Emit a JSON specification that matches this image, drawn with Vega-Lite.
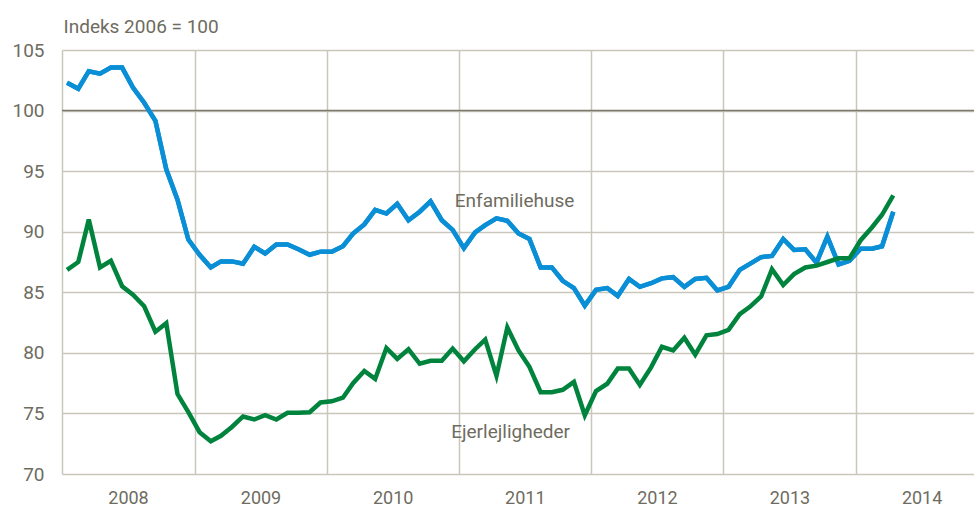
{
  "$schema": "https://vega.github.io/schema/vega-lite/v6.json",
  "width": 912,
  "height": 424,
  "autosize": {"type": "none"},
  "padding": {"left": 62, "top": 50, "right": 0, "bottom": 34},
  "background": "white",
  "config": {
    "view": {"stroke": null},
    "font": "Roboto, sans-serif"
  },
  "datasets": {
    "series": [
      {"date": "2008-01-15", "blue": 102.3, "green": 86.85},
      {"date": "2008-02-15", "blue": 101.8, "green": 87.5},
      {"date": "2008-03-15", "blue": 103.25, "green": 91.0},
      {"date": "2008-04-15", "blue": 103.05, "green": 87.05},
      {"date": "2008-05-15", "blue": 103.55, "green": 87.6},
      {"date": "2008-06-15", "blue": 103.55, "green": 85.5},
      {"date": "2008-07-15", "blue": 101.9, "green": 84.8},
      {"date": "2008-08-15", "blue": 100.65, "green": 83.85},
      {"date": "2008-09-15", "blue": 99.15, "green": 81.75},
      {"date": "2008-10-15", "blue": 95.15, "green": 82.45},
      {"date": "2008-11-15", "blue": 92.65, "green": 76.6},
      {"date": "2008-12-15", "blue": 89.35, "green": 75.1},
      {"date": "2009-01-15", "blue": 88.1, "green": 73.45},
      {"date": "2009-02-15", "blue": 87.05, "green": 72.7},
      {"date": "2009-03-15", "blue": 87.55, "green": 73.15},
      {"date": "2009-04-15", "blue": 87.55, "green": 73.9},
      {"date": "2009-05-15", "blue": 87.35, "green": 74.75},
      {"date": "2009-06-15", "blue": 88.75, "green": 74.5},
      {"date": "2009-07-15", "blue": 88.2, "green": 74.85},
      {"date": "2009-08-15", "blue": 88.95, "green": 74.5},
      {"date": "2009-09-15", "blue": 88.95, "green": 75.05},
      {"date": "2009-10-15", "blue": 88.55, "green": 75.05},
      {"date": "2009-11-15", "blue": 88.1, "green": 75.1},
      {"date": "2009-12-15", "blue": 88.35, "green": 75.9},
      {"date": "2010-01-15", "blue": 88.35, "green": 76.0},
      {"date": "2010-02-15", "blue": 88.8, "green": 76.3},
      {"date": "2010-03-15", "blue": 89.85, "green": 77.5},
      {"date": "2010-04-15", "blue": 90.6, "green": 78.5},
      {"date": "2010-05-15", "blue": 91.8, "green": 77.85},
      {"date": "2010-06-15", "blue": 91.5, "green": 80.4},
      {"date": "2010-07-15", "blue": 92.3, "green": 79.5},
      {"date": "2010-08-15", "blue": 90.95, "green": 80.3},
      {"date": "2010-09-15", "blue": 91.65, "green": 79.1},
      {"date": "2010-10-15", "blue": 92.5, "green": 79.35},
      {"date": "2010-11-15", "blue": 90.95, "green": 79.35},
      {"date": "2010-12-15", "blue": 90.15, "green": 80.35},
      {"date": "2011-01-15", "blue": 88.65, "green": 79.3},
      {"date": "2011-02-15", "blue": 89.95, "green": 80.3},
      {"date": "2011-03-15", "blue": 90.55, "green": 81.1},
      {"date": "2011-04-15", "blue": 91.1, "green": 78.1},
      {"date": "2011-05-15", "blue": 90.9, "green": 82.1},
      {"date": "2011-06-15", "blue": 89.85, "green": 80.2},
      {"date": "2011-07-15", "blue": 89.4, "green": 78.85},
      {"date": "2011-08-15", "blue": 87.05, "green": 76.75},
      {"date": "2011-09-15", "blue": 87.05, "green": 76.75},
      {"date": "2011-10-15", "blue": 85.95, "green": 76.95},
      {"date": "2011-11-15", "blue": 85.35, "green": 77.6},
      {"date": "2011-12-15", "blue": 83.9, "green": 74.85},
      {"date": "2012-01-15", "blue": 85.2, "green": 76.85},
      {"date": "2012-02-15", "blue": 85.35, "green": 77.45},
      {"date": "2012-03-15", "blue": 84.7, "green": 78.7},
      {"date": "2012-04-15", "blue": 86.1, "green": 78.7},
      {"date": "2012-05-15", "blue": 85.45, "green": 77.35},
      {"date": "2012-06-15", "blue": 85.75, "green": 78.8},
      {"date": "2012-07-15", "blue": 86.15, "green": 80.5},
      {"date": "2012-08-15", "blue": 86.25, "green": 80.2},
      {"date": "2012-09-15", "blue": 85.45, "green": 81.25},
      {"date": "2012-10-15", "blue": 86.1, "green": 79.85},
      {"date": "2012-11-15", "blue": 86.2, "green": 81.45},
      {"date": "2012-12-15", "blue": 85.15, "green": 81.55},
      {"date": "2013-01-15", "blue": 85.45, "green": 81.9},
      {"date": "2013-02-15", "blue": 86.85, "green": 83.2},
      {"date": "2013-03-15", "blue": 87.35, "green": 83.8},
      {"date": "2013-04-15", "blue": 87.9, "green": 84.65},
      {"date": "2013-05-15", "blue": 88.0, "green": 86.9},
      {"date": "2013-06-15", "blue": 89.4, "green": 85.6},
      {"date": "2013-07-15", "blue": 88.5, "green": 86.5},
      {"date": "2013-08-15", "blue": 88.55, "green": 87.05},
      {"date": "2013-09-15", "blue": 87.45, "green": 87.2},
      {"date": "2013-10-15", "blue": 89.6, "green": 87.5},
      {"date": "2013-11-15", "blue": 87.3, "green": 87.8},
      {"date": "2013-12-15", "blue": 87.6, "green": 87.8},
      {"date": "2014-01-15", "blue": 88.6, "green": 89.3},
      {"date": "2014-02-15", "blue": 88.6, "green": 90.35},
      {"date": "2014-03-15", "blue": 88.8, "green": 91.4},
      {"date": "2014-04-15", "blue": 91.65, "green": 93.0}
    ],
    "labels": [
      {"label": "Enfamiliehuse", "date": "2011-06-04", "value": 92.55},
      {"label": "Ejerlejligheder", "date": "2011-05-24", "value": 73.5}
    ],
    "ref": [{"value": 100}]
  },
  "layer": [
    {
      "data": {"name": "series"},
      "mark": {"type": "line", "color": "#0a8fd6", "strokeWidth": 4.5, "strokeJoin": "miter"},
      "encoding": {
        "x": {
          "field": "date",
          "type": "temporal",
          "scale": {"type": "utc", "domain": [{"year": 2008, "month": 1, "date": 1, "utc": true}, {"year": 2014, "month": 11, "date": 24, "utc": true}]},
          "axis": {
            "title": null,
            "format": "%Y",
            "formatType": "utc",
            "tickCount": {"interval": "year", "step": 1},
            "labelOffset": 66,
            "labelAlign": "center",
            "labelOverlap": false,
            "labelBound": false,
            "labelFlush": false,
            "ticks": false,
            "domain": false,
            "grid": true,
            "gridColor": "#c9c6bb",
            "gridWidth": 1.5,
            "labelFontSize": 18,
            "labelColor": "#6e6c5f",
            "labelPadding": 15
          }
        },
        "y": {
          "field": "blue",
          "type": "quantitative",
          "scale": {"domain": [70, 105], "nice": false, "zero": false},
          "axis": {
            "title": "Indeks 2006 = 100",
            "titleAngle": 0,
            "titleAlign": "left",
            "titleBaseline": "alphabetic",
            "titleX": 1,
            "titleY": -18,
            "titleFontSize": 19,
            "titleFontWeight": "normal",
            "titleColor": "#6e6c5f",
            "values": [70, 75, 80, 85, 90, 95, 100, 105],
            "ticks": false,
            "domain": false,
            "grid": true,
            "gridColor": "#c9c6bb",
            "gridWidth": 1.5,
            "labelFontSize": 19,
            "labelColor": "#6e6c5f",
            "labelPadding": 18
          }
        }
      }
    },
    {
      "data": {"name": "ref"},
      "mark": {"type": "rule", "color": "#7d7a6c", "strokeWidth": 1.5},
      "encoding": {
        "y": {"field": "value", "type": "quantitative"}
      }
    },
    {
      "data": {"name": "series"},
      "mark": {"type": "line", "color": "#0a8fd6", "strokeWidth": 4.5, "strokeJoin": "miter"},
      "encoding": {
        "x": {"field": "date", "type": "temporal"},
        "y": {"field": "blue", "type": "quantitative"}
      }
    },
    {
      "data": {"name": "series"},
      "mark": {"type": "line", "color": "#00843d", "strokeWidth": 4.5, "strokeJoin": "miter"},
      "encoding": {
        "x": {"field": "date", "type": "temporal"},
        "y": {"field": "green", "type": "quantitative"}
      }
    },
    {
      "data": {"name": "labels"},
      "mark": {"type": "text", "fontSize": 19, "color": "#6e6c5f", "align": "center", "baseline": "middle"},
      "encoding": {
        "x": {"field": "date", "type": "temporal"},
        "y": {"field": "value", "type": "quantitative"},
        "text": {"field": "label"}
      }
    }
  ]
}
